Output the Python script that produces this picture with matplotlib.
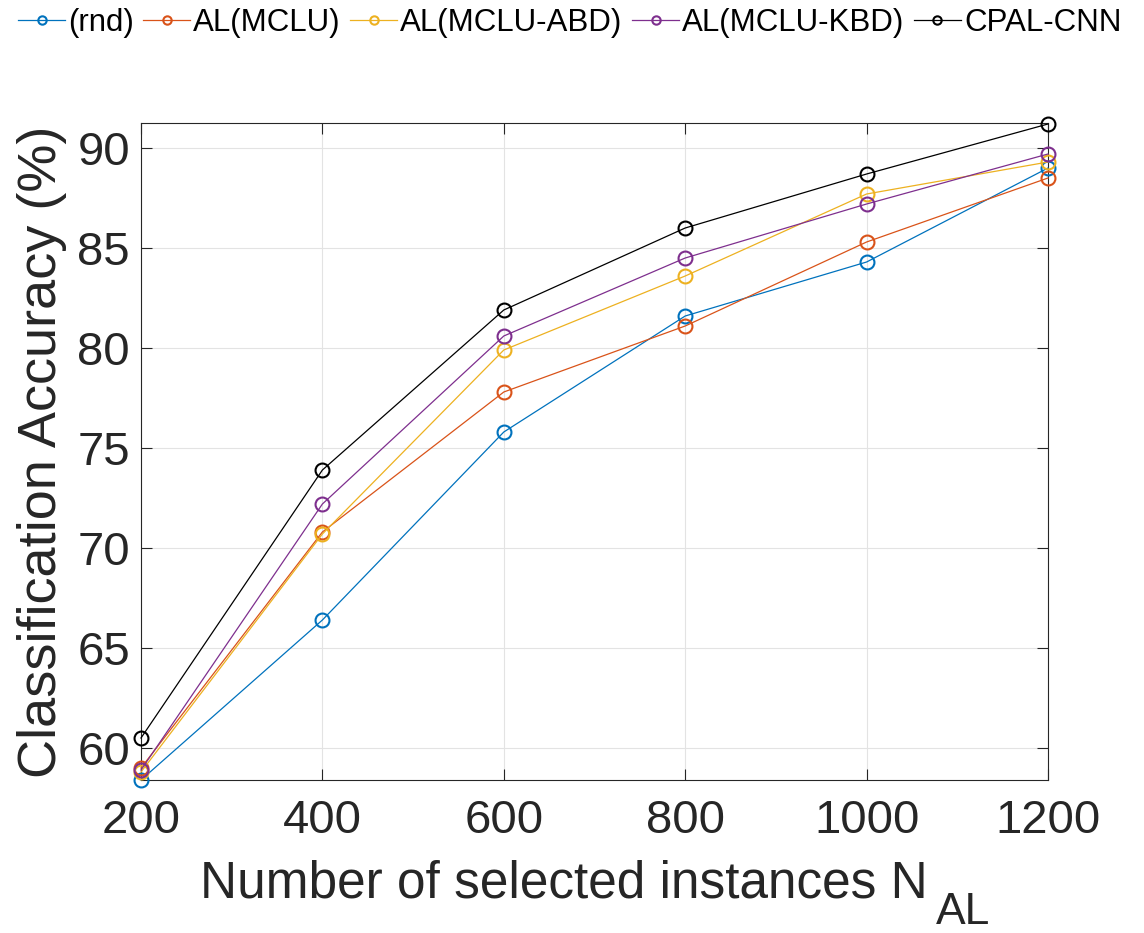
import matplotlib
matplotlib.use("Agg")
import matplotlib.pyplot as plt

plt.rcParams['font.family'] = ['Liberation Sans', 'DejaVu Sans']

x = [200, 400, 600, 800, 1000, 1200]
rnd = [58.4, 66.4, 75.8, 81.6, 84.3, 89.0]
mclu = [59.0, 70.8, 77.8, 81.1, 85.3, 88.5]
mclu_abd = [58.8, 70.7, 79.9, 83.6, 87.7, 89.3]
mclu_kbd = [58.9, 72.2, 80.6, 84.5, 87.2, 89.7]
cpal = [60.5, 73.9, 81.9, 86.0, 88.7, 91.2]
labels = ['(rnd)', 'AL(MCLU)', 'AL(MCLU-ABD)', 'AL(MCLU-KBD)', 'CPAL-CNN']
colors = ['#0072BD', '#D95319', '#EDB120', '#7E2F8E', '#000000']
xticks = [200, 400, 600, 800, 1000, 1200]
yticks = [60, 65, 70, 75, 80, 85, 90]

W, H = 1144, 933
fig = plt.figure(figsize=(W / 100, H / 100), dpi=100)
ax = fig.add_axes([141/W, 1-780/H, (1048-141)/W, (780-123)/H])

series = [rnd, mclu, mclu_abd, mclu_kbd, cpal]
for s, lab, c in zip(series, labels, colors):
    ax.plot(x, s, '-o', color=c, lw=0.9, markersize=10, markerfacecolor='none',
            markeredgewidth=1.5, label=lab, clip_on=False, zorder=3)

ax.set_xlim(200, 1200)
ax.set_ylim(58.4, 91.25)
ax.set_xticks(xticks)
ax.set_yticks(yticks)
ax.grid(True, color='#e3e3e3', lw=0.8)
ax.set_axisbelow(True)
ax.tick_params(axis='both', direction='in', labelsize=34, length=8, width=0.8,
               colors='#262626', top=True, right=True)
ax.tick_params(axis='x', pad=14)
ax.tick_params(axis='y', pad=8)
for sp in ax.spines.values():
    sp.set_color('#262626')
    sp.set_linewidth(0.8)
ax.set_ylabel('Classification Accuracy (%)', fontsize=39, color='#262626', labelpad=7)

# x label with a detached, lowered subscript as in the reference
fig.text(928/W, 1-897/H, 'Number of selected instances N', fontsize=37,
         color='#262626', ha='right', va='baseline')
fig.text(936/W, 1-924/H, 'AL', fontsize=32, color='#262626', ha='left', va='baseline')

leg = fig.legend(loc='upper center', bbox_to_anchor=(0.498, 1.022), ncol=5, frameon=False,
                 fontsize=22.5, handlelength=1.5, handletextpad=0.1, columnspacing=0.3,
                 markerscale=0.6)

fig.savefig('out.png', dpi=100)
